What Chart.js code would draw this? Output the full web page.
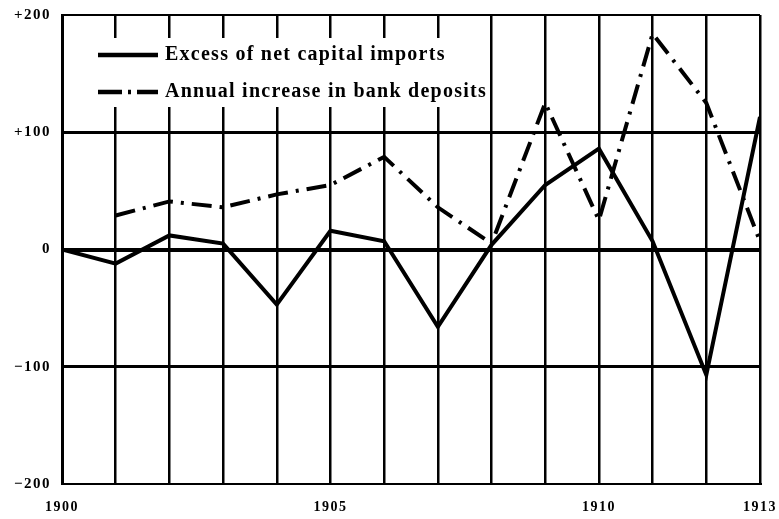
<!DOCTYPE html>
<html><head><meta charset="utf-8">
<script src="https://cdn.jsdelivr.net/npm/chart.js@4"></script>
<style>html,body{margin:0;padding:0;background:#fff}#wrap{width:779px;height:519px}</style>
</head><body><div id="wrap"><canvas id="c" width="779" height="519"></canvas></div>
<script>
const years = [1900,1901,1902,1903,1904,1905,1906,1907,1908,1909,1910,1911,1912,1913];
const capitalImports = [0,-12,12,5,-47,16,7,-66,4,55,86,7,-107,113];
const bankDeposits = [null,29,41,36,47,55,79,36,5,125,25,184,125,7];
const xTickLabels = {1900:'1900',1905:'1905',1910:'1910',1913:'1913'};
const yTickLabels = {200:'+200',100:'+100',0:'0','-100':'\u2212100','-200':'\u2212200'};
const seriesNames = ['Excess of net capital imports','Annual increase in bank deposits'];

const FONT = '"Liberation Serif", "DejaVu Serif", serif';

const spacingPlugin = {
  id:'spacing',
  beforeDraw(chart){ chart.ctx.letterSpacing = '1.5px'; }
};

const legendPlugin = {
  id:'boxLegend',
  afterDraw(chart){
    const ctx = chart.ctx;
    ctx.save();
    ctx.fillStyle = '#fff';
    ctx.fillRect(93, 38, 397, 69);
    const rows = [55, 92];
    chart.data.datasets.forEach((ds,i)=>{
      const y = rows[i];
      ctx.strokeStyle = '#000';
      ctx.lineWidth = 4.5;
      ctx.setLineDash(i===1 ? [24,6,3,6] : []);
      ctx.beginPath(); ctx.moveTo(98,y); ctx.lineTo(158,y); ctx.stroke();
      ctx.setLineDash([]);
      ctx.fillStyle = '#000';
      ctx.font = 'bold 20px ' + FONT;
      ctx.letterSpacing = '1.25px';
      ctx.textBaseline = 'middle';
      ctx.textAlign = 'left';
      ctx.fillText(ds.label, 165, y);
    });
    ctx.restore();
  }
};

new Chart(document.getElementById('c'), {
  type:'line',
  data:{
    datasets:[
      {label:seriesNames[0], data:years.map((y,i)=>({x:y,y:capitalImports[i]})), borderColor:'#000', borderWidth:4, pointRadius:0, tension:0, fill:false},
      {label:seriesNames[1], data:years.map((y,i)=>({x:y,y:bankDeposits[i]})), borderColor:'#000', borderWidth:4, pointRadius:0, tension:0, fill:false, borderDash:[20,8,3,8], spanGaps:false}
    ]
  },
  options:{
    responsive:false, animation:false,
    layout:{padding:{left:0,right:19,top:15,bottom:0}},
    plugins:{legend:{display:false}, tooltip:{enabled:false}},
    scales:{
      x:{type:'linear', min:1900, max:1913,
        afterFit(s){s.height=35; s.paddingLeft=0; s.paddingRight=0;},
        ticks:{stepSize:1, autoSkip:false, maxRotation:0, padding:15, color:'#000',
          font:{family:FONT, size:14, weight:'bold'},
          callback:(v)=> xTickLabels[v] || ''},
        grid:{color:'#000', tickLength:0, drawTicks:false,
          lineWidth:(c)=> (c.tick && c.tick.value===1900) ? 3 : 2.5},
        border:{display:true, color:'#000', width:2}
      },
      y:{min:-200, max:200,
        afterFit(s){s.width=62; s.paddingTop=0; s.paddingBottom=0;},
        ticks:{stepSize:100, padding:11, color:'#000',
          font:{family:FONT, size:15, weight:'bold'},
          callback:(v)=> yTickLabels[v]},
        grid:{color:'#000', tickLength:0, drawTicks:false,
          lineWidth:(c)=>{const v=c.tick?c.tick.value:0; return v===0?4:(Math.abs(v)===100?3:2);}},
        border:{display:true, color:'#000', width:3}
      }
    }
  },
  plugins:[spacingPlugin, legendPlugin]
});
</script></body></html>
